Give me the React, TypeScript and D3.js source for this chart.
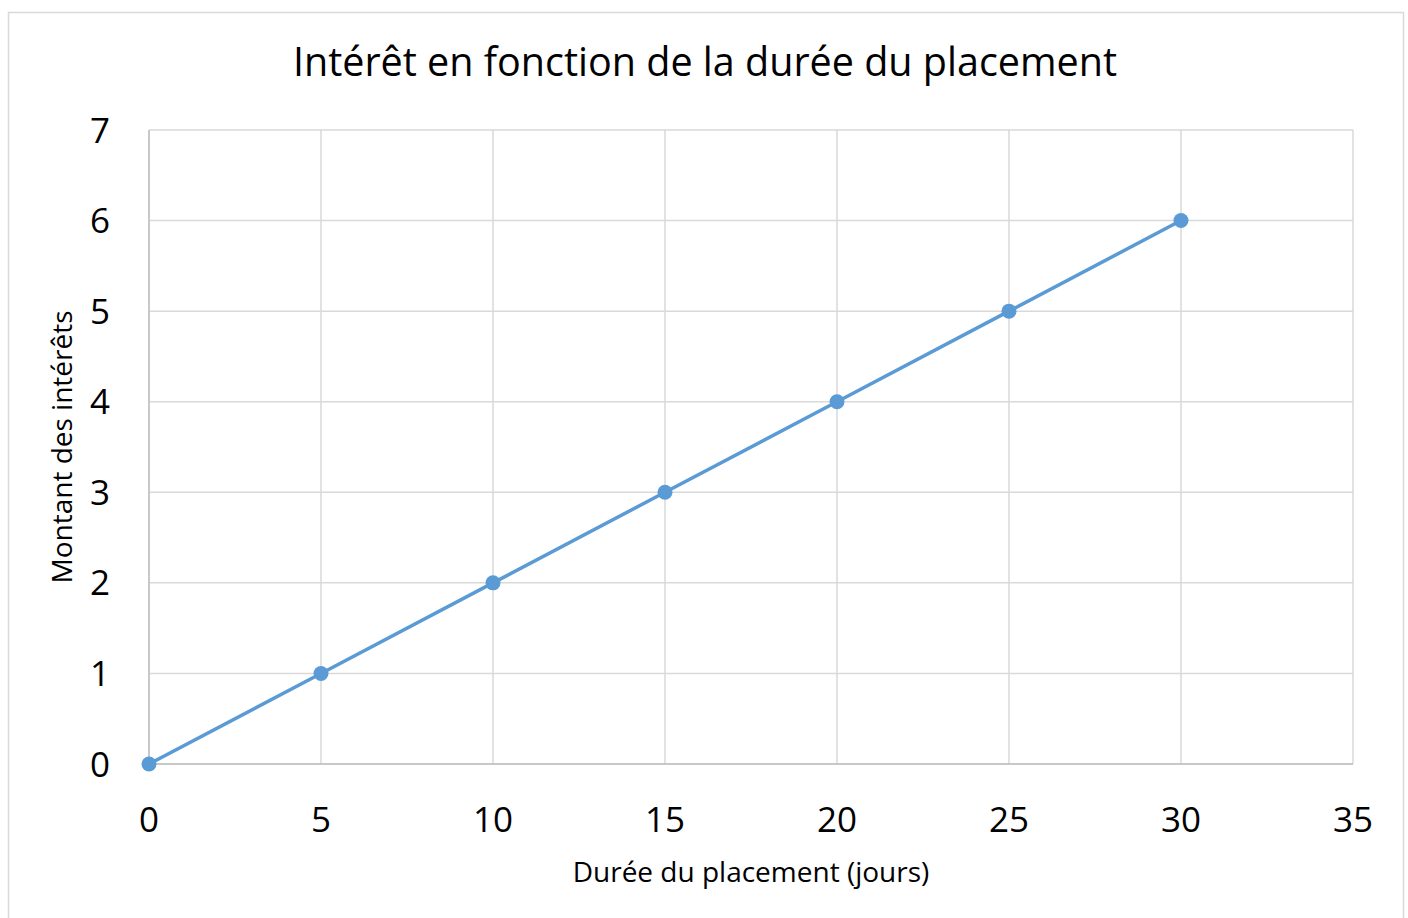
import React from 'react';
import * as d3 from 'd3';

// durée (jours) / intérêts
const days = [0, 5, 10, 15, 20, 25, 30];
const interest = [0, 1, 2, 3, 4, 5, 6];
const xTicks = [0, 5, 10, 15, 20, 25, 30, 35];
const yTicks = [0, 1, 2, 3, 4, 5, 6, 7];

const W = 1408;
const H = 918;
const margin = { top: 130, right: 55, bottom: 154, left: 149 };
const FONT = "'Open Sans', 'Noto Sans', sans-serif";
const BLUE = '#5b9bd5';

export default function App() {
  const x = d3.scaleLinear().domain([0, 35]).range([margin.left, W - margin.right]);
  const y = d3.scaleLinear().domain([0, 7]).range([H - margin.bottom, margin.top]);

  const line = d3
    .line<number>()
    .x((d) => x(d))
    .y((_d, i) => y(interest[i]));

  const x0 = x(0);
  const x1 = x(35);
  const y0 = y(0);
  const y1 = y(7);

  return (
    <svg
      width={W}
      height={H}
      style={{ position: 'absolute', left: 0, top: 0, background: '#fff' }}
      fontFamily={FONT}
    >
      <rect x={8.5} y={12.5} width={1395} height={920} fill="#fff" stroke="#d9d9d9" strokeWidth={1.5} />

      <text x={705} y={76} textAnchor="middle" fontSize={39.5} fill="#000">
        Intérêt en fonction de la durée du placement
      </text>

      {/* grid */}
      {yTicks.map((t) => (
        <line key={'gy' + t} x1={x0} x2={x1} y1={y(t)} y2={y(t)} stroke="#d9d9d9" strokeWidth={1.5} />
      ))}
      {xTicks.map((t) => (
        <line key={'gx' + t} x1={x(t)} x2={x(t)} y1={y1} y2={y0} stroke="#d9d9d9" strokeWidth={1.5} />
      ))}
      {/* axes */}
      <line x1={x0} x2={x1} y1={y0} y2={y0} stroke="#bfbfbf" strokeWidth={1.5} />
      <line x1={x0} x2={x0} y1={y1} y2={y0} stroke="#bfbfbf" strokeWidth={1.5} />

      {yTicks.map((t) => (
        <text key={'ly' + t} x={110} y={y(t)} dy="0.36em" textAnchor="end" fontSize={35} fill="#000">
          {t}
        </text>
      ))}
      {xTicks.map((t) => (
        <text key={'lx' + t} x={x(t)} y={832} textAnchor="middle" fontSize={35} fill="#000">
          {t}
        </text>
      ))}

      <text x={751} y={882} textAnchor="middle" fontSize={28} fill="#000">
        Durée du placement (jours)
      </text>
      <text
        transform={`translate(72, ${447}) rotate(-90)`}
        textAnchor="middle"
        fontSize={28}
        fill="#000"
      >
        Montant des intérêts
      </text>

      <path d={line(days) || ''} fill="none" stroke={BLUE} strokeWidth={3.5} />
      {days.map((d, i) => (
        <circle key={'p' + d} cx={x(d)} cy={y(interest[i])} r={7.5} fill={BLUE} />
      ))}
    </svg>
  );
}
